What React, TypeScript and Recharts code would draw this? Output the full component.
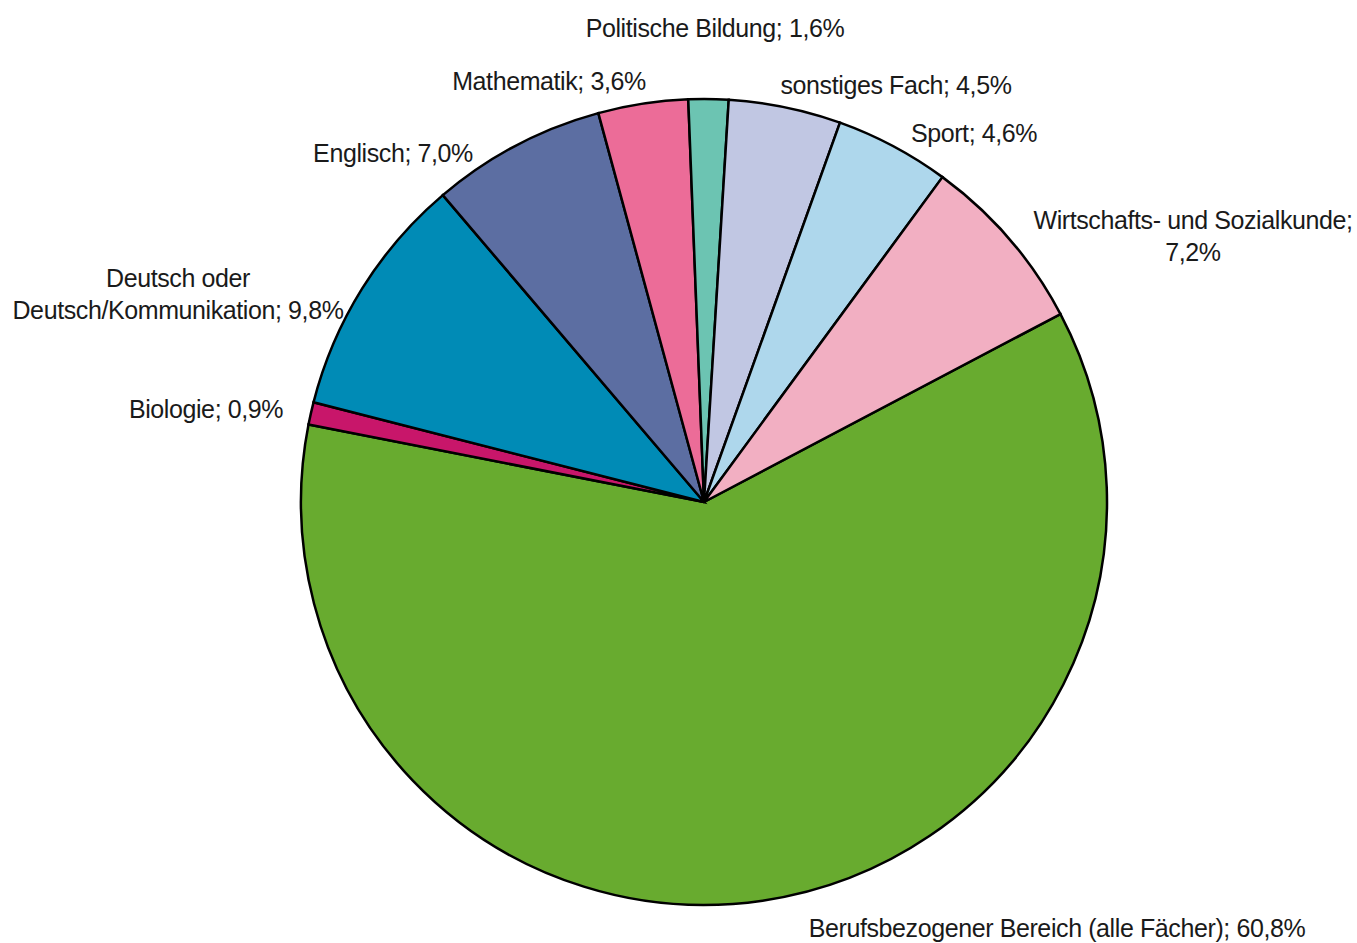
import { PieChart, Pie, Cell } from "recharts";

const subjects = [
  "Berufsbezogener Bereich (alle Fächer)",
  "Biologie",
  "Deutsch oder\nDeutsch/Kommunikation",
  "Englisch",
  "Mathematik",
  "Politische Bildung",
  "sonstiges Fach",
  "Sport",
  "Wirtschafts- und Sozialkunde",
];
const shares = [60.8, 0.9, 9.8, 7.0, 3.6, 1.6, 4.5, 4.6, 7.2];
const colors = [
  "#68ab2f",
  "#c8166a",
  "#008bb6",
  "#5c6ea2",
  "#ec6c98",
  "#6cc4b2",
  "#c1c7e3",
  "#aed7ec",
  "#f2afc2",
];

// label centre offsets from the pie centre (px)
const labelOffsets: [number, number][] = [
  [353, 426],
  [-498, -93],
  [-526, -224],
  [-311, -349],
  [-155, -421],
  [11, -474],
  [192, -417],
  [270, -369],
  [489, -282],
];

const data = subjects.map((name, i) => ({ name, value: shares[i] }));

const fmt = (v: number) => v.toFixed(1).replace(".", ",") + "%";

function renderLabel(props: any) {
  const { cx, cy, index, value, name } = props;
  const [dx, dy] = labelOffsets[index];
  let lines = (name as string).split("\n");
  lines[lines.length - 1] += "; " + fmt(value);
  if (index === 8) lines = ["Wirtschafts- und Sozialkunde;", fmt(value)];
  return (
    <text
      x={cx + dx}
      y={cy + dy}
      textAnchor="middle"
      dominantBaseline="central"
      fill="#1a1a1a"
      fontSize={25}
      letterSpacing={-0.4}
      fontFamily="'Liberation Sans', Arial, sans-serif"
    >
      {lines.map((l, k) => (
        <tspan key={k} x={cx + dx} dy={k === 0 ? 0 : 32}>
          {l}
        </tspan>
      ))}
    </text>
  );
}

export default function App() {
  return (
    <div style={{ position: "absolute", left: 0, top: 0, background: "#fff" }}>
      <PieChart
        width={1357}
        height={943}
        margin={{ top: 0, right: 0, bottom: 0, left: 0 }}
      >
        <Pie
          data={data}
          dataKey="value"
          cx={704}
          cy={502}
          outerRadius={403}
          startAngle={27.8}
          endAngle={-332.2}
          stroke="#000"
          strokeWidth={2.5}
          label={renderLabel}
          labelLine={false}
          isAnimationActive={false}
        >
          {data.map((d, i) => (
            <Cell key={d.name} fill={colors[i]} />
          ))}
        </Pie>
      </PieChart>
    </div>
  );
}
